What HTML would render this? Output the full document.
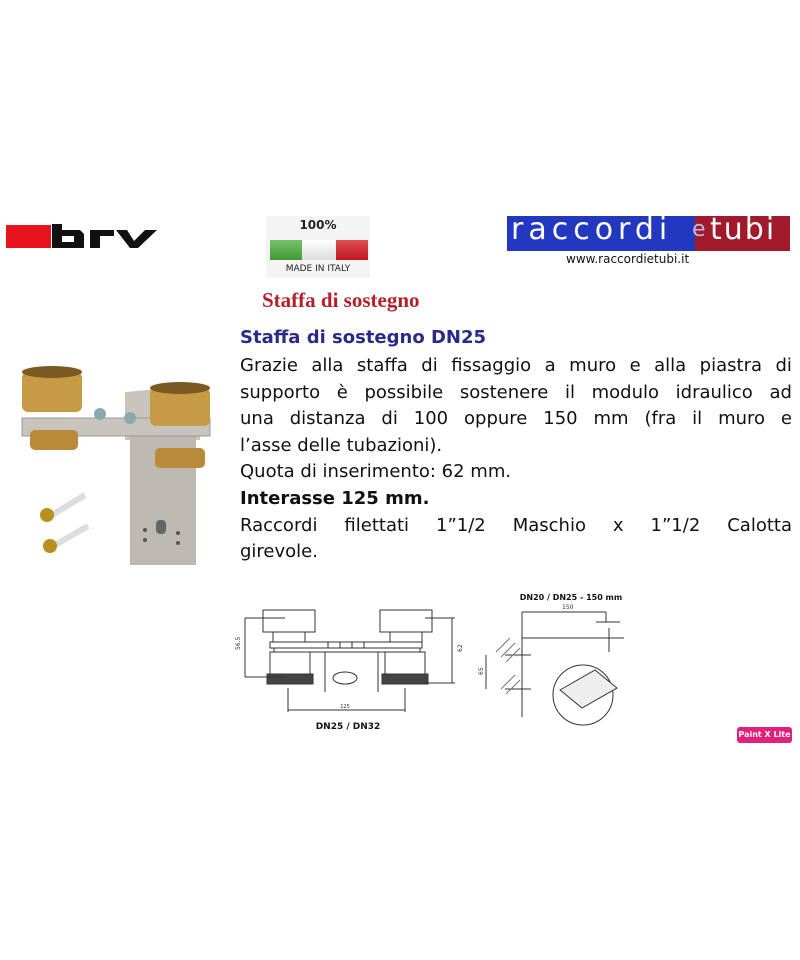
<!DOCTYPE html>
<html><head><meta charset="utf-8"><style>
body{margin:0;width:800px;height:960px;background:#fff;position:relative;overflow:hidden;font-family:"DejaVu Sans","Liberation Sans",sans-serif}
.a{position:absolute}
.t{position:absolute;left:240px;width:552px;font-size:18px;color:#111;line-height:26.6px}
.j{white-space:nowrap;display:flex;justify-content:space-between}
.lg{position:absolute;top:212px;font-size:30px;color:#fff;font-family:'DejaVu Sans',sans-serif;letter-spacing:5px}
</style></head><body>
<div class="a" style="left:6px;top:225px;width:45px;height:23px;background:#e8141c"></div>
<svg class="a" style="left:50px;top:222px" width="110" height="30">
<path d="M2 2h10v6h18l4 4v14H2z M12 14v6h12v-6z" fill="#111" fill-rule="evenodd"/>
<path d="M40 8h24v6H50v12H40z" fill="#111"/>
<path d="M66 8h11l7 11 11-11h12l-19 18H80z" fill="#111"/>
</svg>
<div class="a" style="left:266px;top:216px;width:104px;height:62px;background:#f4f4f4"></div>
<div class="a" style="left:266px;top:218px;width:104px;text-align:center;font-size:12px;font-weight:bold;color:#222">100%</div>
<div class="a" style="left:270px;top:240px;width:32px;height:20px;background:linear-gradient(#7ac06a,#3f9a37)"></div>
<div class="a" style="left:302px;top:240px;width:34px;height:20px;background:linear-gradient(#fff,#ddd)"></div>
<div class="a" style="left:336px;top:240px;width:32px;height:20px;background:linear-gradient(#e05050,#c0161e)"></div>
<div class="a" style="left:266px;top:264px;width:104px;text-align:center;font-size:9px;color:#222">MADE IN ITALY</div>
<div class="a" style="left:507px;top:216px;width:188px;height:35px;background:#2238c0"></div>
<div class="a" style="left:695px;top:216px;width:95px;height:35px;background:#a01a2c"></div>
<div class="lg" style="left:511px">raccordi</div>
<div class="lg" style="left:692px;top:217px;font-size:22px;color:#bbd;letter-spacing:0">e</div>
<div class="lg" style="left:710px;letter-spacing:2px">tubi</div>
<div class="a" style="left:566px;top:252px;font-size:12px;color:#111">www.raccordietubi.it</div>
<div class="a" style="left:262px;top:288px;font-family:'Liberation Serif',serif;font-weight:bold;font-size:21px;color:#b4202a">Staffa di sostegno</div>
<div class="t" style="top:325px;font-weight:bold;color:#2a2a8a">Staffa di sostegno DN25</div>
<div class="t" style="top:353px">
<div class="j"><span>Grazie</span><span>alla</span><span>staffa</span><span>di</span><span>fissaggio</span><span>a</span><span>muro</span><span>e</span><span>alla</span><span>piastra</span><span>di</span></div>
<div class="j"><span>supporto</span><span>è</span><span>possibile</span><span>sostenere</span><span>il</span><span>modulo</span><span>idraulico</span><span>ad</span></div>
<div class="j"><span>una</span><span>distanza</span><span>di</span><span>100</span><span>oppure</span><span>150</span><span>mm</span><span>(fra</span><span>il</span><span>muro</span><span>e</span></div>
<div>l’asse delle tubazioni).</div>
<div>Quota di inserimento: 62 mm.</div>
<div style="font-weight:bold">Interasse 125 mm.</div>
<div class="j"><span>Raccordi</span><span>filettati</span><span>1”1/2</span><span>Maschio</span><span>x</span><span>1”1/2</span><span>Calotta</span></div>
<div>girevole.</div>
</div>
<svg class="a" style="left:0;top:330px" width="240" height="250">
<polygon points="125,62 200,55 200,110 125,110" fill="#c9c5bd"/>
<rect x="130" y="105" width="66" height="130" fill="#bdb8b0"/>
<rect x="22" y="88" width="188" height="18" fill="#c8c4bc" stroke="#999"/>
<ellipse cx="170" cy="79" rx="10" ry="6" fill="#bbb"/>
<rect x="30" y="100" width="48" height="20" rx="5" fill="#b88a3a"/>
<rect x="22" y="42" width="60" height="40" rx="6" fill="#c79a45"/>
<ellipse cx="52" cy="42" rx="30" ry="6" fill="#7a5a20"/>
<rect x="155" y="118" width="50" height="20" rx="5" fill="#b88a3a"/>
<rect x="150" y="58" width="60" height="38" rx="6" fill="#c79a45"/>
<ellipse cx="180" cy="58" rx="30" ry="6" fill="#7a5a20"/>
<circle cx="100" cy="84" r="6" fill="#8aa"/><circle cx="130" cy="88" r="6" fill="#8aa"/>
<rect x="156" y="190" width="10" height="14" rx="4" fill="#666"/>
<circle cx="145" cy="200" r="2" fill="#555"/><circle cx="145" cy="210" r="2" fill="#555"/><circle cx="178" cy="203" r="2" fill="#555"/><circle cx="178" cy="213" r="2" fill="#555"/>
<line x1="52" y1="185" x2="85" y2="165" stroke="#ddd" stroke-width="6"/>
<circle cx="47" cy="185" r="7" fill="#b8901e"/>
<line x1="55" y1="215" x2="88" y2="196" stroke="#ddd" stroke-width="6"/>
<circle cx="50" cy="216" r="7" fill="#b8901e"/>
</svg>
<svg class="a" style="left:220px;top:580px" width="580" height="170" fill="none" stroke="#333" stroke-width="1">
<rect x="43" y="30" width="52" height="22" fill="#fff"/>
<rect x="160" y="30" width="52" height="22" fill="#fff"/>
<rect x="53" y="52" width="32" height="10"/><rect x="170" y="52" width="32" height="10"/>
<rect x="50" y="62" width="152" height="6"/>
<rect x="54" y="68" width="146" height="4"/>
<rect x="50" y="72" width="40" height="22"/><rect x="165" y="72" width="40" height="22"/>
<rect x="47" y="94" width="46" height="10" fill="#444"/><rect x="162" y="94" width="46" height="10" fill="#444"/>
<path d="M105 72v40M158 72v40"/>
<ellipse cx="125" cy="98" rx="12" ry="6"/>
<rect x="108" y="62" width="12" height="6"/><rect x="132" y="62" width="12" height="6"/>
<path d="M25 38h40M25 97h40M25 38v59M205 38h30M205 103h30M232 38v65M68 108v24M185 108v24M68 130h117"/>
<text x="125" y="128" font-size="5" fill="#333" stroke="none" text-anchor="middle">125</text>
<text x="20" y="70" font-size="6" fill="#333" stroke="none" transform="rotate(-90 20 70)">56.5</text>
<text x="242" y="72" font-size="6" fill="#333" stroke="none" transform="rotate(-90 242 72)">62</text>
<text x="128" y="149" font-size="9" font-weight="bold" fill="#111" stroke="none" text-anchor="middle">DN25 / DN32</text>
<text x="351" y="20" font-size="8" font-weight="bold" fill="#111" stroke="none" text-anchor="middle">DN20 / DN25 - 150 mm</text>
<path d="M302 32v105M302 32h84M386 32v10M302 58h102M376 42h24M389 48v24M285 75h26M285 109h26M266 75v34"/>
<path d="M290 58l-14 14M295 63l-14 14M300 68l-14 14M295 95l-14 14M300 100l-14 14" stroke="#777"/>
<text x="342" y="29" font-size="6" fill="#333" stroke="none">150</text>
<text x="263" y="95" font-size="6" fill="#333" stroke="none" transform="rotate(-90 263 95)">65</text>
<circle cx="363" cy="115" r="30"/>
<path d="M340 110l35-20 22 18-35 20z" fill="#eee"/>
</svg>
<div class="a" style="left:737px;top:727px;width:55px;height:16px;border-radius:3px;background:#e0207a;color:#fff;font-size:8px;font-weight:bold;text-align:center;line-height:16px">Paint X Lite</div>
</body></html>
